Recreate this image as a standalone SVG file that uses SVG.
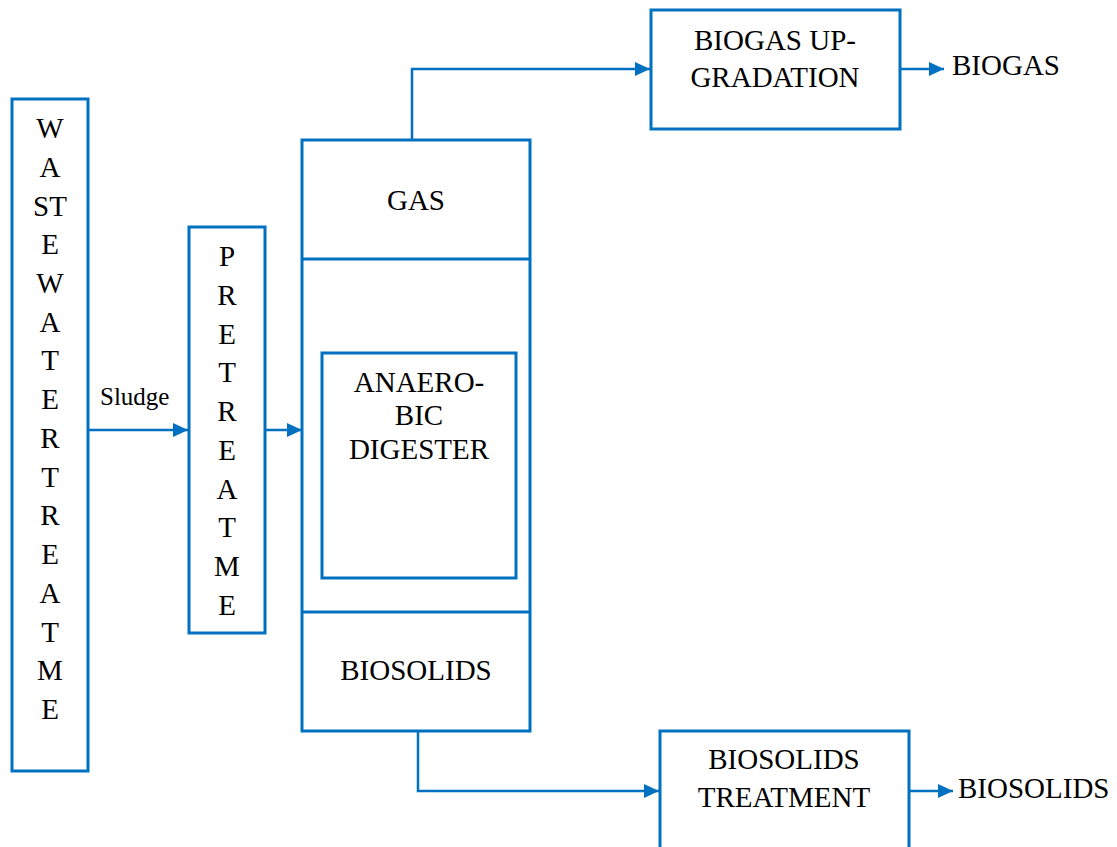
<svg xmlns="http://www.w3.org/2000/svg" width="1117" height="847" viewBox="0 0 1117 847">
<defs>
<style>
.box{fill:#fff;stroke:#0070C0;stroke-width:3}
.ln{fill:none;stroke:#0070C0;stroke-width:2.5}
text{font-size:29px;fill:#000}
.c{text-anchor:middle}
</style>
<marker id="ah" markerUnits="userSpaceOnUse" markerWidth="16" markerHeight="14" refX="15" refY="7" orient="auto">
<path d="M0,0 L15,7 L0,14 Z" fill="#0070C0"/>
</marker>
</defs>
<rect width="1117" height="847" fill="#fff"/>
<g font-family="'Liberation Serif', 'Times New Roman', serif">
<g id="connectors">
<path class="ln" d="M88,430 H188" marker-end="url(#ah)"/>
<path class="ln" d="M265,430 H302" marker-end="url(#ah)"/>
<path class="ln" d="M412,140 V69 H650" marker-end="url(#ah)"/>
<path class="ln" d="M900,69 H944" marker-end="url(#ah)"/>
<path class="ln" d="M418,731 V791 H659" marker-end="url(#ah)"/>
<path class="ln" d="M909,791 H953" marker-end="url(#ah)"/>
<text x="100" y="405" style="font-size:25px">Sludge</text>
</g>
<g id="wastewater">
<rect class="box" x="12" y="99" width="76" height="672"/>
<text class="c" x="50" y="138">W</text>
<text class="c" x="50" y="176.7">A</text>
<text class="c" x="50" y="215.5">ST</text>
<text class="c" x="50" y="254.2">E</text>
<text class="c" x="50" y="292.9">W</text>
<text class="c" x="50" y="331.7">A</text>
<text class="c" x="50" y="370.4">T</text>
<text class="c" x="50" y="409.1">E</text>
<text class="c" x="50" y="447.8">R</text>
<text class="c" x="50" y="486.6">T</text>
<text class="c" x="50" y="525.3">R</text>
<text class="c" x="50" y="564">E</text>
<text class="c" x="50" y="602.8">A</text>
<text class="c" x="50" y="641.5">T</text>
<text class="c" x="50" y="680.2">M</text>
<text class="c" x="50" y="719">E</text>
</g>
<g id="pretreatment">
<rect class="box" x="189" y="227" width="76" height="406"/>
<text class="c" x="227" y="266">P</text>
<text class="c" x="227" y="304.8">R</text>
<text class="c" x="227" y="343.6">E</text>
<text class="c" x="227" y="382.3">T</text>
<text class="c" x="227" y="421.1">R</text>
<text class="c" x="227" y="459.9">E</text>
<text class="c" x="227" y="498.7">A</text>
<text class="c" x="227" y="537.4">T</text>
<text class="c" x="227" y="576.2">M</text>
<text class="c" x="227" y="615">E</text>
</g>
<g id="digester">
<rect class="box" x="302" y="140" width="228" height="591"/>
<line class="ln" x1="302" y1="259" x2="530" y2="259" style="stroke-width:3"/>
<line class="ln" x1="302" y1="612" x2="530" y2="612" style="stroke-width:3"/>
<text class="c" x="416" y="210">GAS</text>
<rect class="box" x="322" y="353" width="194" height="225"/>
<text class="c" x="419" y="392">ANAERO-</text>
<text class="c" x="419" y="425">BIC</text>
<text class="c" x="419" y="459">DIGESTER</text>
<text class="c" x="416" y="680">BIOSOLIDS</text>
</g>
<g id="upgradation">
<rect class="box" x="651" y="10" width="249" height="119"/>
<text class="c" x="775" y="50">BIOGAS UP-</text>
<text class="c" x="775" y="87">GRADATION</text>
</g>
<g id="biogas">
<text x="952" y="75">BIOGAS</text>
</g>
<g id="biosolids-treatment">
<rect class="box" x="660" y="731" width="249" height="130"/>
<text class="c" x="784" y="769">BIOSOLIDS</text>
<text class="c" x="784" y="807">TREATMENT</text>
</g>
<g id="biosolids-out">
<text x="958" y="798">BIOSOLIDS</text>
</g>
</g>
</svg>
